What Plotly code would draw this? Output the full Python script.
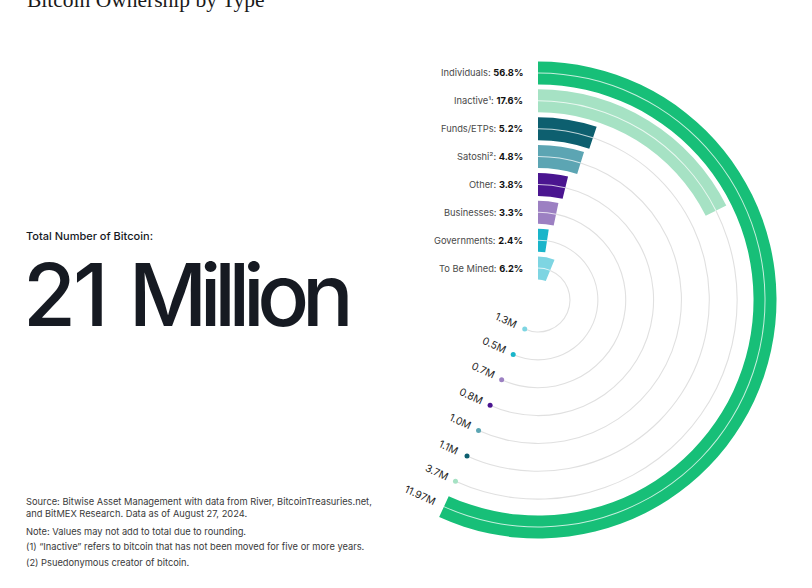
import numpy as np
import plotly.graph_objects as go

# ---------------- data ----------------
categories = ["Individuals", "Inactive¹", "Funds/ETPs", "Satoshi²", "Other",
              "Businesses", "Governments", "To Be Mined"]
shares = [56.8, 17.6, 5.2, 4.8, 3.8, 3.3, 2.4, 6.2]          # percent of 21M
amounts = ["11.97M", "3.7M", "1.1M", "1.0M", "0.8M", "0.7M", "0.5M", "1.3M"]
colors = ["#17BF78", "#A6E2C4", "#0D5F6F", "#5CA5B3", "#4A1590",
          "#9C80C2", "#1AB5CA", "#7ED5E2"]

title_text = "Bitcoin Ownership by Type"
total_label = "Total Number of Bitcoin:"
total_num, total_word = "21", "Million"
notes = [
    "Source: Bitwise Asset Management with data from River, BitcoinTreasuries.net,",
    "and BitMEX Research. Data as of August 27, 2024.",
    "Note: Values may not add to total due to rounding.",
    "(1) \u201cInactive\u201d refers to bitcoin that has not been moved for five or more years.",
    "(2) Psuedonymous creator of bitcoin.",
]

# ---------------- layout constants ----------------
W, H = 812, 588
CX, CY = 538, 300          # centre of the rings (pixels from left / top)
RMAX = 240                 # radial axis range in px
R_IN = 32                  # innermost ring centre radius
PITCH = 27.86
THICK = 23
FONT = "Inter"

n = len(categories)
ring_r = np.array([R_IN + (n - 1 - i) * PITCH for i in range(n)])
deg = np.array(shares) * 3.6
max_deg = deg.max()

fig = go.Figure()

# gray tracks from the end of each bar to the largest bar's end
mask = deg < max_deg
fig.add_trace(go.Barpolar(
    theta=((deg + max_deg) / 2)[mask], width=(max_deg - deg)[mask],
    base=ring_r[mask] - 0.55, r=[1.1] * int(mask.sum()),
    marker=dict(color="#e0e0e0", line=dict(width=0)),
    hoverinfo="skip", showlegend=False))

# main bars
fig.add_trace(go.Barpolar(
    theta=deg / 2, width=deg, base=ring_r - THICK / 2, r=[THICK] * n,
    marker=dict(color=colors, line=dict(width=0)),
    hoverinfo="skip", showlegend=False))

# thin white centre line in each bar
fig.add_trace(go.Barpolar(
    theta=deg / 2, width=deg, base=ring_r - 0.5, r=[1.0] * n,
    marker=dict(color="rgba(255,255,255,0.75)", line=dict(width=0)),
    hoverinfo="skip", showlegend=False))

# dots at the end of the tracks
fig.add_trace(go.Scatterpolar(
    r=ring_r[mask], theta=[max_deg] * int(mask.sum()), mode="markers",
    marker=dict(color=np.array(colors)[mask], size=5),
    hoverinfo="skip", showlegend=False))

# invisible cartesian helper (1 unit = 1 px, origin at ring centre)
fig.add_trace(go.Scatter(x=[0], y=[0], mode="markers",
                         marker=dict(opacity=0), hoverinfo="skip",
                         showlegend=False))

ann = []
# left labels at 12 o'clock
for cat, s, r in zip(categories, shares, ring_r):
    ann.append(dict(
        x=-13, y=r, xref="x", yref="y", xanchor="right", yanchor="middle",
        showarrow=False,
        text=f"{cat}: <b><span style='color:#111'>{s}%</span></b>",
        font=dict(family=FONT, size=9.3, color="#4a4a4a")))

# rotated amount labels near the track ends
th = np.deg2rad(max_deg)
tan = np.array([np.cos(th), -np.sin(th)])
for a, r in zip(amounts, ring_r):
    px, py = r * np.sin(th), r * np.cos(th)
    dist = 9 + len(a) * 2.8
    ann.append(dict(
        x=px, y=py, xref="x", yref="y", xanchor="center", yanchor="middle",
        xshift=dist * tan[0], yshift=dist * tan[1] + 1,
        showarrow=False, textangle=max_deg - 180, text=a,
        font=dict(family=FONT, size=10.3, color="#1e1e1e")))

# title and left texts (paper pixels)
def py2paper(ypx):
    return 1 - ypx / H

ann.append(dict(x=25 / W, y=py2paper(0), xref="paper", yref="paper",
                xanchor="left", yanchor="middle", showarrow=False,
                text=title_text,
                font=dict(family="Liberation Serif", size=21.5, color="#1a1a1a")))
ann.append(dict(x=24 / W, y=py2paper(236), xref="paper", yref="paper",
                xanchor="left", yanchor="middle", showarrow=False,
                text=total_label,
                font=dict(family=FONT, size=11, color="#16191f", weight=500)))
ann.append(dict(x=21 / W, y=py2paper(295), xref="paper", yref="paper",
                xanchor="left", yanchor="middle", showarrow=False,
                text=("<span style='letter-spacing:-3px'>" + total_num + "</span> "
                      "<span style='letter-spacing:-7.3px'>" + total_word + "</span>"),
                font=dict(family=FONT, size=86, color="#161a22", weight=500)))
note_y = [502, 513.5, 531, 546.5, 562]
for t, yy in zip(notes, note_y):
    ann.append(dict(x=24 / W, y=py2paper(yy), xref="paper", yref="paper",
                    xanchor="left", yanchor="middle", showarrow=False,
                    text=t, font=dict(family=FONT, size=9.3, color="#3a3a3a")))

fig.update_layout(
    width=W, height=H, margin=dict(l=0, r=0, t=0, b=0),
    paper_bgcolor="white", plot_bgcolor="rgba(0,0,0,0)",
    polar=dict(
        domain=dict(x=[(CX - RMAX) / W, (CX + RMAX) / W],
                    y=[(H - CY - RMAX) / H, (H - CY + RMAX) / H]),
        bgcolor="rgba(0,0,0,0)", barmode="overlay", hole=0,
        radialaxis=dict(visible=False, range=[0, RMAX]),
        angularaxis=dict(visible=False, rotation=90, direction="clockwise"),
    ),
    xaxis=dict(visible=False, range=[-CX, W - CX], fixedrange=True),
    yaxis=dict(visible=False, range=[-(H - CY), CY], fixedrange=True),
    annotations=ann,
    showlegend=False,
)

fig.write_html("out.html")
